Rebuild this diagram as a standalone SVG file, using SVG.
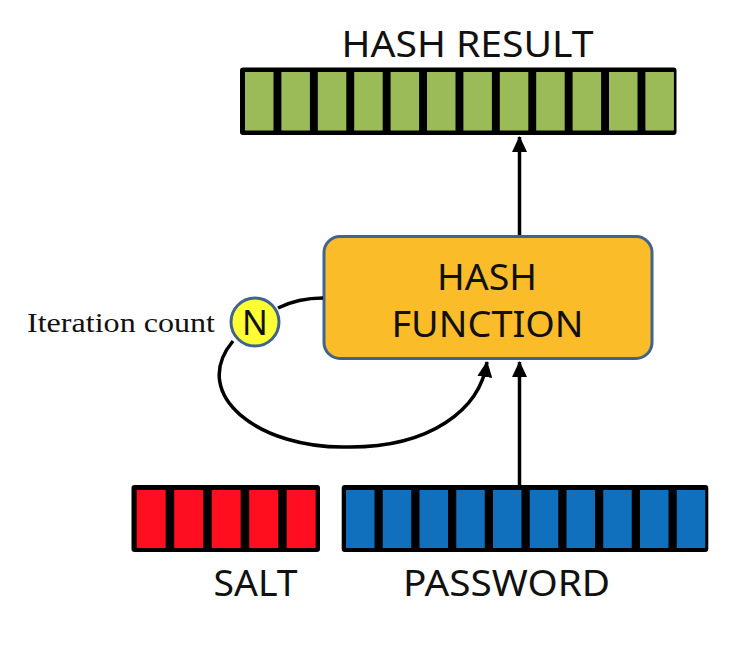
<svg xmlns="http://www.w3.org/2000/svg" width="742" height="650" viewBox="0 0 742 650">
<style>
.lbl{font-family:"Noto Sans","Open Sans",sans-serif;font-size:36px;fill:#111}
.bg{fill:#000}
.g{fill:#9BBB59}
.r{fill:#FF0E1F}
.b{fill:#1170BE}
.edge{fill:none;stroke:#000;stroke-width:3.5}
</style>
<defs>
<marker id="ah" markerUnits="userSpaceOnUse" markerWidth="16" markerHeight="15" refX="15" refY="7.5" orient="auto" viewBox="0 0 16 15">
<path d="M0,0 L16,7.5 L0,15 z" fill="#000"/>
</marker>
</defs>
<rect width="742" height="650" fill="#fff"/>
<g id="hash-result">
<text class="lbl" x="467.5" y="56.5" text-anchor="middle" textLength="252" lengthAdjust="spacingAndGlyphs">HASH RESULT</text>
<rect class="bg" x="240" y="67.5" width="436.5" height="67.5" rx="3"/>
<rect class="g" x="245" y="72" width="28.5" height="58.5"/>
<rect class="g" x="281.4" y="72" width="28.5" height="58.5"/>
<rect class="g" x="317.8" y="72" width="28.5" height="58.5"/>
<rect class="g" x="354.2" y="72" width="28.5" height="58.5"/>
<rect class="g" x="390.6" y="72" width="28.5" height="58.5"/>
<rect class="g" x="427" y="72" width="28.5" height="58.5"/>
<rect class="g" x="463.4" y="72" width="28.5" height="58.5"/>
<rect class="g" x="499.8" y="72" width="28.5" height="58.5"/>
<rect class="g" x="536.2" y="72" width="28.5" height="58.5"/>
<rect class="g" x="572.6" y="72" width="28.5" height="58.5"/>
<rect class="g" x="609" y="72" width="28.5" height="58.5"/>
<rect class="g" x="645.4" y="72" width="28.5" height="58.5"/>
</g>
<g id="hash-function">
<rect x="324" y="236.5" width="328" height="122" rx="16" fill="#FBBC2A" stroke="#41648F" stroke-width="3"/>
<text class="lbl" x="487" y="290" text-anchor="middle" textLength="100" lengthAdjust="spacingAndGlyphs">HASH</text>
<text class="lbl" x="487.5" y="337" text-anchor="middle" textLength="192" lengthAdjust="spacingAndGlyphs">FUNCTION</text>
</g>
<g id="iteration">
<text x="27" y="332" font-family="'Liberation Serif',serif" font-size="28" fill="#111" textLength="188" lengthAdjust="spacingAndGlyphs">Iteration count</text>
<circle cx="255" cy="322" r="24" fill="#FFFF33" stroke="#41648F" stroke-width="3"/>
<text x="255" y="335" text-anchor="middle" font-family="'Noto Sans','Open Sans',sans-serif" font-size="34" fill="#111">N</text>
</g>
<g id="salt">
<rect class="bg" x="131.5" y="485" width="188.5" height="67" rx="3"/>
<rect class="r" x="136.7" y="490" width="29" height="58"/>
<rect class="r" x="174.2" y="490" width="29" height="58"/>
<rect class="r" x="211.7" y="490" width="29" height="58"/>
<rect class="r" x="249.2" y="490" width="29" height="58"/>
<rect class="r" x="286.7" y="490" width="29" height="58"/>
<text class="lbl" x="255.5" y="596" text-anchor="middle" textLength="84" lengthAdjust="spacingAndGlyphs">SALT</text>
</g>
<g id="password">
<rect class="bg" x="341.7" y="485" width="366.6" height="67" rx="3"/>
<rect class="b" x="346" y="490" width="28.5" height="58"/>
<rect class="b" x="382.75" y="490" width="28.5" height="58"/>
<rect class="b" x="419.5" y="490" width="28.5" height="58"/>
<rect class="b" x="456.25" y="490" width="28.5" height="58"/>
<rect class="b" x="493" y="490" width="28.5" height="58"/>
<rect class="b" x="529.75" y="490" width="28.5" height="58"/>
<rect class="b" x="566.5" y="490" width="28.5" height="58"/>
<rect class="b" x="603.25" y="490" width="28.5" height="58"/>
<rect class="b" x="640" y="490" width="28.5" height="58"/>
<rect class="b" x="676.75" y="490" width="28.5" height="58"/>
<text class="lbl" x="506.5" y="596" text-anchor="middle" textLength="207" lengthAdjust="spacingAndGlyphs">PASSWORD</text>
</g>
<g id="connectors">
<path class="edge" d="M519.5 485 L519.5 362" marker-end="url(#ah)"/>
<path class="edge" d="M519.5 235 L519.5 137" marker-end="url(#ah)"/>
<path class="edge" d="M278 308 C292 301 308 298 323 298"/>
<path class="edge" d="M233 341 C188 395 260 450 350 447 C430 447 480 410 487 362" marker-end="url(#ah)"/>
</g>
</svg>
